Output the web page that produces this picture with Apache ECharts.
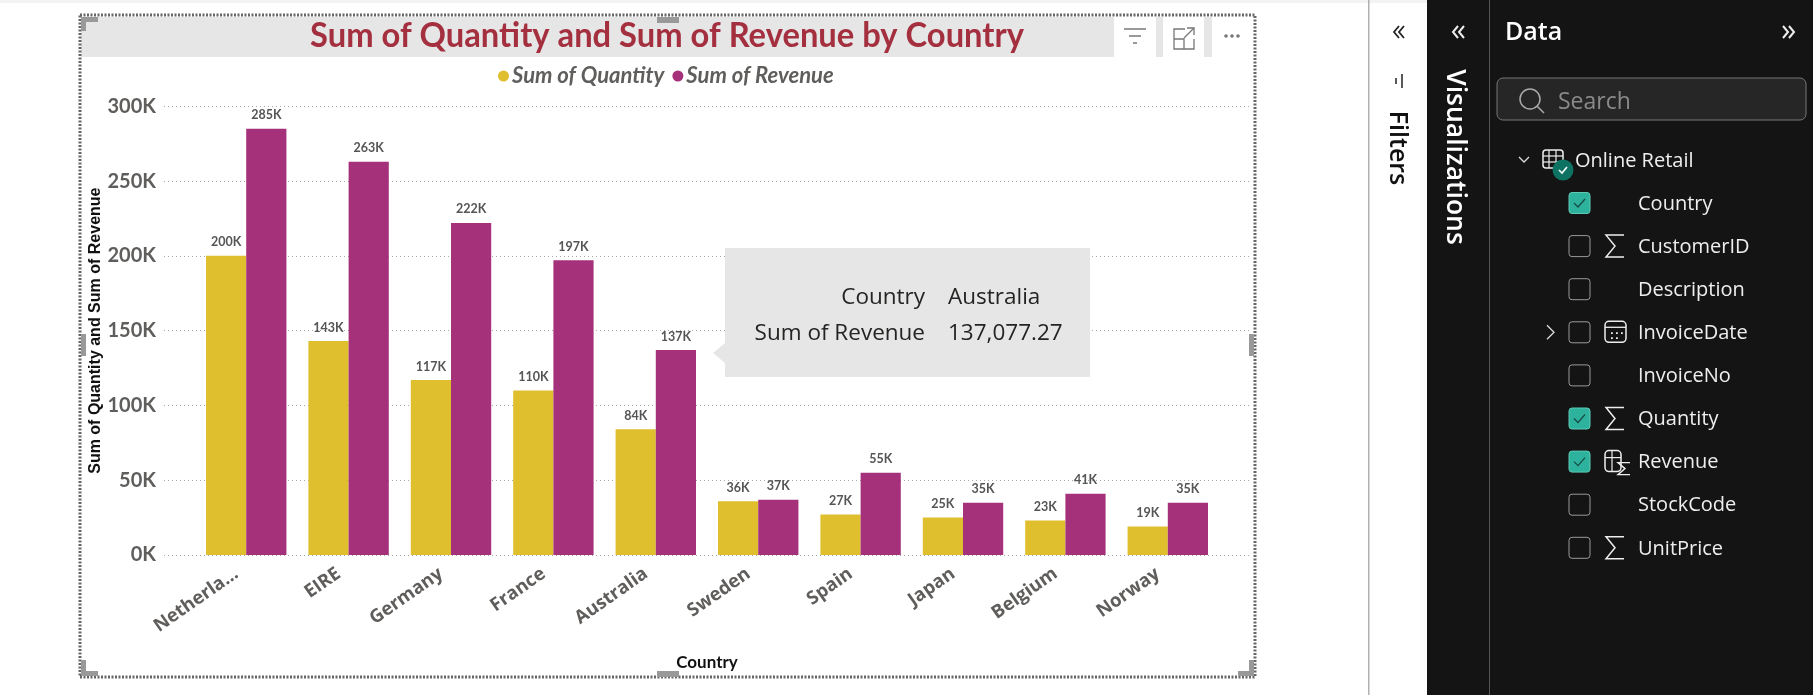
<!DOCTYPE html>
<html>
<head>
<meta charset="utf-8">
<title>Sum of Quantity and Sum of Revenue by Country</title>
<style>
html,body{margin:0;padding:0;background:#fff;overflow:hidden}
#chart{width:1813px;height:695px}
</style>
<script src="https://cdn.jsdelivr.net/npm/echarts@6/dist/echarts.min.js"></script>
</head>
<body>
<div id="chart"></div>
<script>
// Chart data
const countries = ['Netherlands','EIRE','Germany','France','Australia','Sweden','Spain','Japan','Belgium','Norway'];
const sumOfQuantity = [200000,143000,117000,110000,84000,36000,27000,25000,23000,19000];
const sumOfRevenue = [285000,263000,222000,197000,137077.27,37000,55000,35000,41000,35000];
const chartTitle = 'Sum of Quantity and Sum of Revenue by Country';
const hoveredCountry = 'Australia';

// Field list of the data pane: name, ticked, field kind
const fieldNames = ['Country','CustomerID','Description','InvoiceDate','InvoiceNo','Quantity','Revenue','StockCode','UnitPrice'];
const fieldTicked = [true,false,false,false,false,true,true,false,false];
const fieldKinds = ['','sum','','date','','sum','measure','','sum'];

const NARROW = 'Lato,"Open Sans",sans-serif';
const UI = '"Open Sans","Noto Sans",sans-serif';
const kFormat = v => Math.round(v / 1000) + 'K';

const g = [];
const rect = (x,y,w,h,fill,extra={}) => g.push({type:'rect',shape:{x,y,width:w,height:h,r:extra.r||0},style:{fill,stroke:extra.stroke,lineWidth:extra.lw||1,lineDash:extra.dash},z:extra.z||0,silent:true});
const text = (x,y,t,font,fill,extra={}) => g.push({type:'text',x,y,rotation:extra.rot||0,scaleX:extra.sx||1,style:{text:t,font,fill,align:extra.align||'left',verticalAlign:'middle'},z:extra.z||1,silent:true});
const stroke = (pts,color,lw=1.5,z=1) => g.push({type:'polyline',shape:{points:pts},style:{stroke:color,fill:null,lineWidth:lw},z,silent:true});

// Report page chrome
rect(0,0,1813,3,'#f3f3f3');
rect(1368,0,1.5,695,'#b0b0b0');
rect(1427,0,386,695,'#141414');
rect(1489,0,1,695,'#555555',{z:1});

// Visual frame, title band and header icons
rect(81,17,1172,40,'#e6e6e6');
text(667,36,chartTitle,'bold 35px '+NARROW,'#A4303F',{align:'center',sx:0.935,z:2});
rect(1114,17,42,40,'#ffffff',{z:1});
rect(1163,17,41,40,'#ffffff',{z:1});
rect(1212,17,41,40,'#ffffff',{z:1});
stroke([[1124,29],[1146,29]],'#777',1.5,2);
stroke([[1129,36],[1141,36]],'#777',1.5,2);
stroke([[1133,43],[1137,43]],'#777',1.5,2);
stroke([[1185,29],[1174,29],[1174,49],[1194,49],[1194,39]],'#777',1.3,2);
stroke([[1174,39],[1184,39],[1184,49]],'#777',1.3,2);
stroke([[1184,38],[1194,28]],'#777',1.3,2);
stroke([[1187,28],[1194,28],[1194,35]],'#777',1.3,2);
[1226,1232,1238].forEach(x => g.push({type:'circle',shape:{cx:x,cy:36,r:1.8},style:{fill:'#777'},z:2,silent:true}));
rect(80,15,1175,662,null,{stroke:'#666666',lw:3,dash:[2,1.5],z:3});
[[81,17,17,5],[81,17,5,14],[657,17,22,6],[1249,334,5,22],[81,334,5,22],[657,671,22,6],[81,671,17,5],[81,660,5,16],[1238,671,16,5],[1249,660,5,16]].forEach(h => rect(h[0],h[1],h[2],h[3],'#999999',{z:4}));

// Tooltip for the hovered revenue bar
const tipIndex = countries.indexOf(hoveredCountry);
rect(725,248,365,129,'#e6e6e6',{z:50});
g.push({type:'polygon',shape:{points:[[713,353],[725,343],[725,363]]},style:{fill:'#e6e6e6'},z:50,silent:true});
text(925,298,'Country','22.5px '+UI,'#252423',{align:'right',z:51});
text(948,298,countries[tipIndex],'22.5px '+UI,'#252423',{z:51});
text(925,334,'Sum of Revenue','22.5px '+UI,'#252423',{align:'right',z:51});
text(948,334,sumOfRevenue[tipIndex].toLocaleString('en-US',{minimumFractionDigits:2}),'22.5px '+UI,'#252423',{z:51});

// Collapsed filter pane
stroke([[1399,26],[1394,32],[1399,38]],'#222',1.8);
stroke([[1404,26],[1399,32],[1404,38]],'#222',1.8);
stroke([[1396,84],[1396,78]],'#222',1.5);
stroke([[1402,88],[1402,74]],'#222',1.5);
text(1397,148,'Filters','600 25px '+UI,'#111',{rot:-Math.PI/2,align:'center'});

// Collapsed visualizations pane
stroke([[1458,26],[1453,32],[1458,38]],'#eee',2);
stroke([[1464,26],[1459,32],[1464,38]],'#eee',2);
text(1455,157,'Visualizations','600 26.5px '+UI,'#ffffff',{rot:-Math.PI/2,align:'center'});

// Data pane header and search box
text(1505,33,'Data','600 25px '+UI,'#ffffff');
stroke([[1783,26],[1788,32],[1783,38]],'#eee',2);
stroke([[1789,26],[1794,32],[1789,38]],'#eee',2);
rect(1497,78,309,42,'#262626',{stroke:'#777',r:6,z:1});
g.push({type:'circle',shape:{cx:1530,cy:99,r:10},style:{fill:null,stroke:'#aaa',lineWidth:1.5},z:2,silent:true});
stroke([[1537,106],[1544,113]],'#aaa',1.5,2);
text(1558,102,'Search','23px '+UI,'#8a8a8a',{z:2});

// Table node of the field tree
stroke([[1519,157],[1524,162],[1529,157]],'#ddd',1.3);
rect(1543,150,20,18,null,{stroke:'#eee',lw:1.5,r:3,z:1});
stroke([[1549,150],[1549,168]],'#eee',1.2);
stroke([[1556,150],[1556,168]],'#eee',1.2);
stroke([[1543,156],[1563,156]],'#eee',1.2);
stroke([[1543,162],[1563,162]],'#eee',1.2);
g.push({type:'circle',shape:{cx:1563,cy:170,r:10.5},style:{fill:'#0E7262'},z:2,silent:true});
stroke([[1559,170],[1562,173],[1567,167]],'#fff',1.6,3);
text(1575,161,'Online Retail','20px '+UI,'#eeeeee');

// Rows of the field tree
fieldNames.forEach((name,i) => {
  const y = 203 + i * 43.1;
  const x = 1569;
  rect(x,y-10.5,21,21,fieldTicked[i]?'#2DB39D':null,{stroke:fieldTicked[i]?'#5fc9b6':'#999',r:3,z:1});
  if (fieldTicked[i]) stroke([[x+5,y],[x+9,y+4],[x+16,y-4]],'#174a42',1.2,2);
  const kind = fieldKinds[i];
  if (kind === 'sum') stroke([[1624,y-11],[1606,y-11],[1615,y],[1606,y+11],[1624,y+11]],'#eee',1.5);
  if (kind === 'date') {
    rect(1605,y-11,21,21,null,{stroke:'#eee',lw:1.5,r:4,z:1});
    stroke([[1605,y-5],[1626,y-5]],'#eee',1.3);
    [[1611,y],[1616,y],[1621,y],[1611,y+5],[1616,y+5]].forEach(p => rect(p[0],p[1],1.8,1.8,'#eee',{z:2}));
  }
  if (kind === 'measure') {
    rect(1605,y-11,16,21,null,{stroke:'#eee',lw:1.5,r:4,z:1});
    stroke([[1612,y-11],[1612,y+10]],'#eee',1.2);
    stroke([[1605,y-4],[1621,y-4]],'#eee',1.2);
    stroke([[1630,y+1],[1618,y+1],[1625,y+7],[1618,y+13],[1630,y+13]],'#eee',1.4,2);
  }
  if (name === 'InvoiceDate') stroke([[1547,y-7],[1554,y],[1547,y+7]],'#ddd',1.3);
  text(1638,y+1,name,'20px '+UI,'#eeeeee');
});

const chart = echarts.init(document.getElementById('chart'),null,{renderer:'canvas'});
chart.setOption({
  animation:false,
  backgroundColor:'#ffffff',
  legend:{
    left:493,top:60,itemWidth:11,itemHeight:11,itemGap:8,icon:'circle',
    selectedMode:false,
    data:['Sum of Quantity','Sum of Revenue'],
    textStyle:{fontFamily:NARROW,fontStyle:'italic',fontWeight:'bold',fontSize:22,color:'#605E5C',padding:[0,0,0,-2]}
  },
  grid:[
    // Outer grid carries the value scale and its full-width gridlines
    {left:164,top:106.3,width:1086,height:448.7,containLabel:false},
    // Inner grid holds the bars inside the wider gridlines
    {left:195,top:106.3,width:1024,height:448.7,containLabel:false}
  ],
  xAxis:[
    {type:'value',gridIndex:0,min:0,max:1,show:false},
    {
      type:'category',gridIndex:1,data:countries,
      name:'Country',nameLocation:'middle',nameGap:99,nameMoveOverlap:false,
      nameTextStyle:{fontFamily:NARROW,fontWeight:'bold',fontSize:17,color:'#111'},
      axisLine:{show:false},axisTick:{show:false},
      axisLabel:{
        interval:0,rotate:35,margin:10,padding:[0,12,0,0],
        fontFamily:UI,fontWeight:'bold',fontSize:18.5,color:'#605E5C',
        formatter:v => v.length > 9 ? v.slice(0,8) + '...' : v
      }
    }
  ],
  yAxis:[
    {
      type:'value',gridIndex:0,min:0,max:300000,interval:50000,
      name:'Sum of Quantity and Sum of Revenue',nameLocation:'middle',nameGap:60,nameMoveOverlap:false,
      nameTextStyle:{fontFamily:'"Liberation Sans",sans-serif',fontWeight:'bold',fontSize:16,color:'#111'},
      axisLine:{show:false},axisTick:{show:false},
      axisLabel:{formatter:kFormat,margin:8,fontFamily:NARROW,fontWeight:'bold',fontSize:20,color:'#605E5C'},
      splitLine:{lineStyle:{type:[1,3],color:'#a8a8a8',width:1}}
    },
    {type:'value',gridIndex:1,min:0,max:300000,interval:50000,show:false,splitLine:{show:false}}
  ],
  series:[
    {
      name:'Sum of Quantity',type:'bar',xAxisIndex:1,yAxisIndex:1,data:sumOfQuantity,
      barWidth:40.2,barGap:0,itemStyle:{color:'#E0BF2E'},
      label:{show:true,position:'top',distance:7,formatter:p => kFormat(p.value),fontFamily:NARROW,fontWeight:'bold',fontSize:12.5,color:'#555'}
    },
    {
      name:'Sum of Revenue',type:'bar',xAxisIndex:1,yAxisIndex:1,data:sumOfRevenue,
      barWidth:40.2,barGap:0,itemStyle:{color:'#A5317B'},
      label:{show:true,position:'top',distance:7,formatter:p => kFormat(p.value),fontFamily:NARROW,fontWeight:'bold',fontSize:12.5,color:'#555'}
    }
  ],
  graphic:{elements:g}
});
</script>
</body>
</html>
